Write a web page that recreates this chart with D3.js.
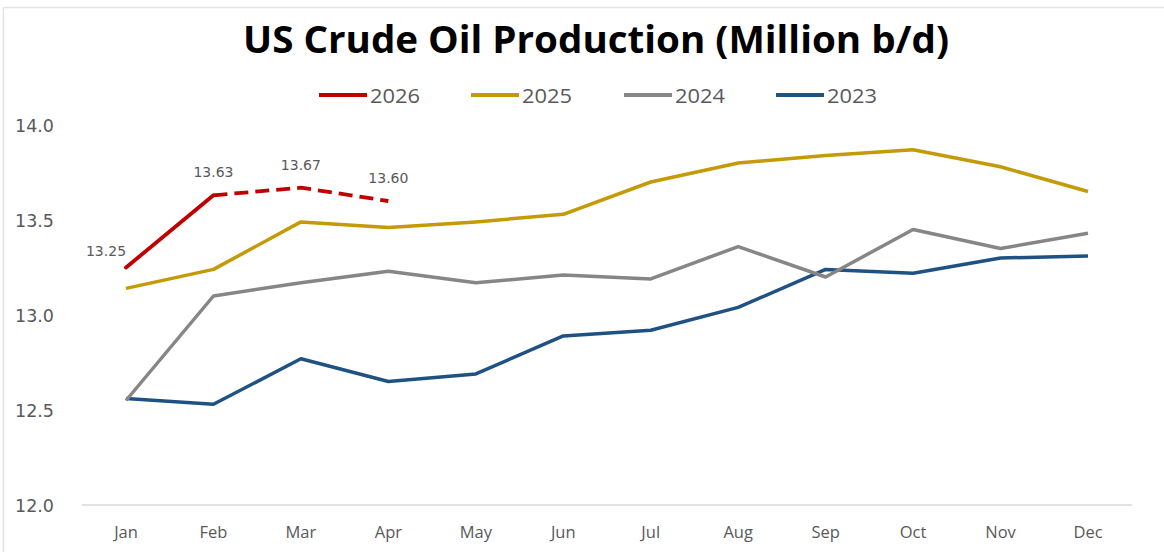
<!DOCTYPE html>
<html><head><meta charset="utf-8">
<script src="https://cdn.jsdelivr.net/npm/d3@7"></script>
<style>body{margin:0;background:#fff}svg{display:block}</style>
</head><body>
<svg id="c" width="1164" height="552"></svg>
<script>
const months = ["Jan","Feb","Mar","Apr","May","Jun","Jul","Aug","Sep","Oct","Nov","Dec"];
const s2026 = [13.25, 13.63, 13.67, 13.60];
const s2025 = [13.14, 13.24, 13.49, 13.46, 13.49, 13.53, 13.70, 13.80, 13.84, 13.87, 13.78, 13.65];
const s2024 = [12.55, 13.10, 13.17, 13.23, 13.17, 13.21, 13.19, 13.36, 13.20, 13.45, 13.35, 13.43];
const s2023 = [12.56, 12.53, 12.77, 12.65, 12.69, 12.89, 12.92, 13.04, 13.24, 13.22, 13.30, 13.31];
const yTicks = [12.0, 12.5, 13.0, 13.5, 14.0];
const labels2026 = ["13.25","13.63","13.67","13.60"];
const legendNames = ["2026","2025","2024","2023"];

const colors = {"2026":"#C00000","2025":"#C49A06","2024":"#868686","2023":"#1F5283"};
const svg = d3.select("#c");

// frame
svg.append("rect").attr("x",3.5).attr("y",7.5).attr("width",1170).attr("height",560)
  .attr("fill","none").attr("stroke","#E3E3E3").attr("stroke-width",1.5);

// title
svg.append("text").attr("x",596).attr("y",53).attr("text-anchor","middle")
  .attr("font-family","Open Sans, sans-serif").attr("font-weight","700").attr("font-size",37)
  .attr("textLength",706).attr("lengthAdjust","spacingAndGlyphs")
  .attr("fill","#000").text("US Crude Oil Production (Million b/d)");

const x = d3.scalePoint().domain(months).range([126,1088]);
const y = d3.scaleLinear().domain([12,14]).range([505,125]);

// baseline axis
svg.append("line").attr("x1",82).attr("x2",1132).attr("y1",y(12)).attr("y2",y(12))
  .attr("stroke","#D9D9D9").attr("stroke-width",1.5);

// y tick labels
svg.append("g").selectAll("text").data(yTicks).join("text")
  .attr("x",15).attr("y",d=>y(d)+6.5)
  .attr("font-family","DejaVu Sans, sans-serif").attr("font-size",17.5).attr("fill","#595959")
  .text(d=>d3.format(".1f")(d));

// x labels
svg.append("g").selectAll("text").data(months).join("text")
  .attr("x",d=>x(d)).attr("y",538).attr("text-anchor","middle")
  .attr("font-family","Open Sans, sans-serif").attr("font-size",16.5).attr("fill","#595959")
  .text(d=>d);

const line = d3.line().x((d,i)=>x(months[i])).y(d=>y(d));
function drawSeries(vals,col){
  svg.append("path").datum(vals).attr("d",line).attr("fill","none")
    .attr("stroke",col).attr("stroke-width",3.5).attr("stroke-linejoin","round");
}
drawSeries(s2023,colors["2023"]);
drawSeries(s2024,colors["2024"]);
drawSeries(s2025,colors["2025"]);

// 2026: solid Jan-Feb, dashed Feb-Apr
const l26 = d3.line().x(d=>x(months[d.i])).y(d=>y(d.v));
const pts26 = s2026.map((v,i)=>({v,i}));
svg.append("path").datum(pts26.slice(0,2)).attr("d",l26).attr("fill","none")
  .attr("stroke",colors["2026"]).attr("stroke-width",3.8).attr("stroke-linecap","round");
svg.append("path").datum(pts26.slice(1)).attr("d",l26).attr("fill","none")
  .attr("stroke",colors["2026"]).attr("stroke-width",3.8).attr("stroke-dasharray","14,7");

// data labels
const offs = [[-20,-12],[0,-18],[0,-18],[0,-18]];
svg.append("g").selectAll("text").data(pts26).join("text")
  .attr("x",d=>x(months[d.i])+offs[d.i][0]).attr("y",d=>y(d.v)+offs[d.i][1])
  .attr("text-anchor","middle")
  .attr("font-family","DejaVu Sans, sans-serif").attr("font-size",14).attr("fill","#595959")
  .text(d=>labels2026[d.i]);

// legend
const legX = [319,471,624,776];
const lg = svg.append("g").selectAll("g").data(legendNames).join("g")
  .attr("transform",(d,i)=>`translate(${legX[i]},95)`);
lg.append("line").attr("x1",0).attr("x2",48).attr("y1",0).attr("y2",0)
  .attr("stroke",d=>colors[d]).attr("stroke-width",3.8);
lg.append("text").attr("x",51).attr("y",7.5)
  .attr("font-family","Open Sans, sans-serif").attr("font-size",20).attr("fill","#595959")
  .attr("textLength",50).attr("lengthAdjust","spacingAndGlyphs")
  .text(d=>d);
</script>
</body></html>
